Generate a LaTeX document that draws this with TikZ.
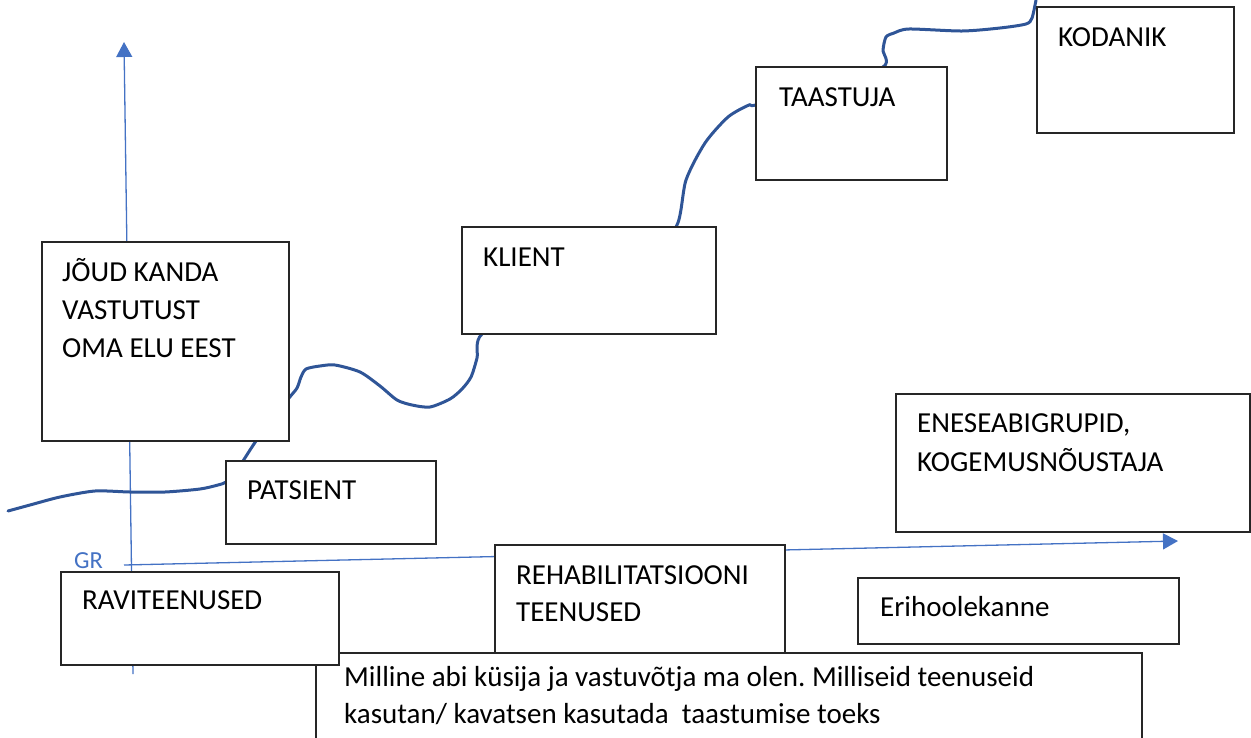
\documentclass[tikz,border=0pt]{standalone}
\usepackage{fontspec}
\setmainfont{Carlito}
\usetikzlibrary{arrows.meta}
\definecolor{axisblue}{HTML}{4472C4}
\definecolor{curveblue}{HTML}{2F5597}
\definecolor{boxline}{HTML}{262626}
\frenchspacing
\begin{document}
\begin{tikzpicture}[x=1pt,y=-1pt,
  box/.style={draw=boxline, line width=1.2pt, fill=white, anchor=north west, inner sep=0pt, outer sep=0pt},
  txt/.style={anchor=base west, inner sep=0pt, font=\fontsize{29}{38}\selectfont},
  axis/.style={draw=axisblue, line width=1.3pt, -{Triangle[width=16pt,length=15pt]}},
  path curve/.style={draw=curveblue, line width=3pt, line cap=round, line join=round}]
\useasboundingbox (0,0) rectangle (1251,737);
\clip (0,0) rectangle (1251,737);
% axes
\coordinate (yfoot) at (133,674);
\coordinate (ytip) at (124,42);
\coordinate (xfoot) at (124,565);
\coordinate (xtip) at (1178,541);
\draw[axis] (yfoot) -- (ytip);
\draw[axis] (xfoot) -- (xtip);
\node[anchor=base west, inner sep=0pt, text=axisblue, font=\fontsize{24.5}{28}\selectfont] (gr) at (74,568) {GR};
% curve
\draw[path curve] plot[smooth, tension=0.45] coordinates {
 (8,511) (30,505) (60,497) (95,491) (130,492) (165,492) (200,489) (218,485) (226,482)
 (236,472) (243,461) (256,441) (272,420) (289,398) (297,388) (301,377) (306,369)
 (320,366) (335,365) (360,372) (380,386) (397,400) (412,405) (430,407) (450,399)
 (462,389) (471,377) (477,358) (482,334) (540,300) (640,250) (676,227) (686,180)
 (705,143) (728,117) (749,105) (756,105) (820,90) (883,67) (883,50) (886,37)
 (894,33) (909,29) (962,31) (1000,28) (1026,24) (1032,18) (1036,0)};
% boxes
\node[box, minimum width=247pt, minimum height=199pt] (joud) at (42,242) {};
\node[txt] (joud1) at (62,281) {JÕUD KANDA};
\node[txt] (joud2) at (62,319) {VASTUTUST};
\node[txt] (joud3) at (62,357) {OMA ELU EEST};
\node[box, minimum width=210pt, minimum height=83pt] (pat) at (226,461) {};
\node[txt] (patt) at (247,499) {PATSIENT};
\node[box, minimum width=254pt, minimum height=107pt] (klient) at (462,227) {};
\node[txt] (klientt) at (483,266) {KLIENT};
\node[box, minimum width=191pt, minimum height=113pt] (taast) at (756,67) {};
\node[txt] (taastt) at (779,106) {TAASTUJA};
\node[box, minimum width=197pt, minimum height=126pt] (kod) at (1037,7) {};
\node[txt] (kodt) at (1058,46) {KODANIK};
\node[box, minimum width=354pt, minimum height=138pt] (enese) at (896,394) {};
\node[txt] (enese1) at (917,432) {ENESEABIGRUPID,};
\node[txt] (enese2) at (917,471) {KOGEMUSNÕUSTAJA};
\node[box, minimum width=290pt, minimum height=109pt] (rehab) at (495,545) {};
\node[txt] (rehab1) at (516,584) {REHABILITATSIOONI};
\node[txt] (rehab2) at (516,621) {TEENUSED};
\node[box, minimum width=321pt, minimum height=66pt] (eri) at (858,578) {};
\node[txt] (erit) at (880,616) {Erihoolekanne};
\node[box, minimum width=826pt, minimum height=110pt] (bottom) at (316,653) {};
\node[txt] (bottom1) at (344,686) {Milline abi küsija ja vastuvõtja ma olen. Milliseid teenuseid};
\node[txt] (bottom2) at (344,723) {kasutan/ kavatsen kasutada\ \ taastumise toeks};
\node[box, minimum width=278pt, minimum height=93pt] (rav) at (61,572) {};
\node[txt] (ravt) at (82,609) {RAVITEENUSED};
\end{tikzpicture}
\end{document}
